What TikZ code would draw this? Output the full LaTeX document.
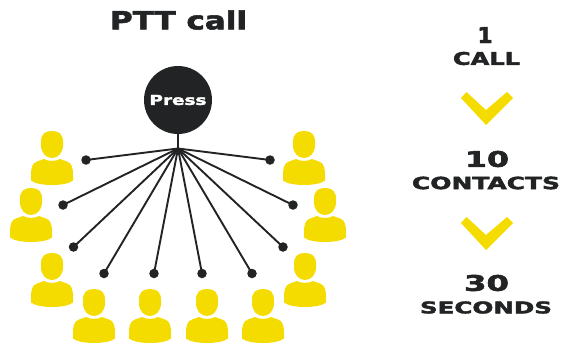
\documentclass[tikz,border=0pt]{standalone}
\usepackage{fontspec}
\setmainfont{DejaVu Sans}
\newfontfamily\heavyface[FakeBold=2.2]{DejaVu Sans Bold}
\definecolor{inkdark}{HTML}{222324}
\definecolor{signal}{HTML}{F5DC00}
\newcommand{\fittext}[3]{\resizebox{#1pt}{#2pt}{\heavyface #3}}
\tikzset{
  x=1pt,y=-1pt,
  txt/.style={inner sep=0pt,outer sep=0pt,text=inkdark,anchor=center},
  spoke/.style={draw=inkdark,line width=1.9pt},
  dotnode/.style={circle,fill=inkdark,draw=none,minimum size=9.5pt,inner sep=0pt},
  hubnode/.style={circle,fill=inkdark,draw=none,minimum size=68pt,inner sep=0pt,text=white},
  chevron/.style={fill=signal,draw=none},
  pics/person/.style={code={
    \fill[signal] (-11,11) .. controls (-11,3) and (-7,0) .. (0,0)
      .. controls (7,0) and (11,3) .. (11,11)
      -- (11,14) .. controls (11,22) and (6,27) .. (0,27)
      .. controls (-6,27) and (-11,22) .. (-11,14) -- cycle;
    \fill[signal] (-21,45) .. controls (-21,37) and (-20,32) .. (-15,30.5)
      -- (-8,28) .. controls (-4,30.5) and (4,30.5) .. (8,28)
      -- (15,30.5) .. controls (20,32) and (21,37) .. (21,45)
      -- (21,49.5) .. controls (14,55.5) and (-14,55.5) .. (-21,49.5) -- cycle;
  }}
}
\begin{document}
\begin{tikzpicture}
\useasboundingbox (0,0) rectangle (562,346);
% people
\pic at (52,131) {person};
\pic at (304,131) {person};
\pic at (31,188) {person};
\pic at (325,188) {person};
\pic at (52,253) {person};
\pic at (305,253) {person};
\pic at (94,289) {person};
\pic at (150,289) {person};
\pic at (207,289) {person};
\pic at (263,289) {person};
% hub
\node[hubnode] (press) at (178,100) {\fittext{57}{10}{Press}};
\coordinate (fan) at (178,148.5);
\foreach \n/\px/\py in {a/86/160,b/270/160,c/63/205,d/293/205,e/73.5/247,f/283/247,g/104/273.5,h/154/273.5,i/202/273.5,j/252/273.5}{
  \node[dotnode] (\n) at (\px,\py) {};
  \draw[spoke] (fan) -- (\n.center);
}
\draw[spoke] (press.south) -- (fan);
% title
\node[txt] (title) at (178.5,20) {\fittext{137}{19}{PTT call}};
% right column
\node[txt] (n1) at (485,35) {\fittext{15}{16}{1}};
\node[txt] (l1) at (486.5,58.5) {\fittext{67}{13}{CALL}};
\node[txt] (n2) at (487,159) {\fittext{44}{16}{10}};
\node[txt] (l2) at (486,183) {\fittext{148}{12.5}{CONTACTS}};
\node[txt] (n3) at (486.5,283) {\fittext{45}{16}{30}};
\node[txt] (l3) at (486,307.5) {\fittext{132}{12}{SECONDS}};
\fill[chevron] (461,98) -- (466.5,92) -- (486,110) -- (507,92) -- (513,98) -- (486,125) -- cycle;
\fill[chevron] (461,223) -- (466.5,217) -- (486,235) -- (507,217) -- (513,223) -- (486,250) -- cycle;
\end{tikzpicture}
\end{document}
